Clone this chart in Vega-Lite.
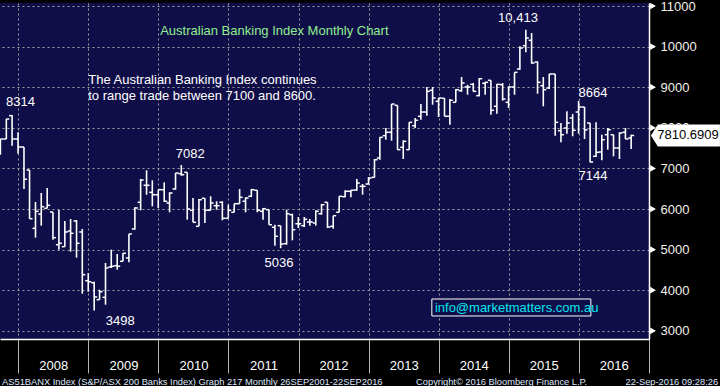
{
  "$schema": "https://vega.github.io/schema/vega-lite/v6.json",
  "width": 649,
  "height": 336,
  "padding": 0,
  "background": "#000000",
  "config": {
    "view": {"fill": "#100e48", "stroke": null},
    "font": "Liberation Sans"
  },
  "datasets": {
    "bars": [
      {"date":"2007-09-30","open":7594,"high":7724,"low":7337,"close":7724},
      {"date":"2007-10-31","open":7724,"high":8217,"low":7724,"close":8217},
      {"date":"2007-11-30","open":8300,"high":8314,"low":7559,"close":7724},
      {"date":"2007-12-31","open":7724,"high":7889,"low":7362,"close":7527},
      {"date":"2008-01-31","open":7527,"high":7527,"low":6493,"close":6732},
      {"date":"2008-02-29","open":6961,"high":6961,"low":5761,"close":5761},
      {"date":"2008-03-31","open":5524,"high":6172,"low":5294,"close":5943},
      {"date":"2008-04-30","open":5876,"high":6394,"low":5589,"close":6057},
      {"date":"2008-05-31","open":6017,"high":6517,"low":6017,"close":6091},
      {"date":"2008-06-30","open":5926,"high":5926,"low":5244,"close":5294},
      {"date":"2008-07-31","open":5121,"high":5975,"low":4998,"close":5155},
      {"date":"2008-08-31","open":5072,"high":5705,"low":5072,"close":5434},
      {"date":"2008-09-30","open":5458,"high":5754,"low":4949,"close":5401},
      {"date":"2008-10-31","open":5705,"high":5729,"low":4801,"close":5155},
      {"date":"2008-11-30","open":5434,"high":5508,"low":3914,"close":4382},
      {"date":"2008-12-31","open":4234,"high":4424,"low":3963,"close":4209},
      {"date":"2009-01-31","open":4185,"high":4209,"low":3498,"close":3833},
      {"date":"2009-02-28","open":3766,"high":4012,"low":3766,"close":3963},
      {"date":"2009-03-31","open":3825,"high":4670,"low":3643,"close":4547},
      {"date":"2009-04-30","open":4572,"high":4998,"low":4547,"close":4589},
      {"date":"2009-05-31","open":4604,"high":4892,"low":4505,"close":4589},
      {"date":"2009-06-30","open":4712,"high":4917,"low":4712,"close":4909},
      {"date":"2009-07-31","open":4794,"high":5385,"low":4687,"close":5385},
      {"date":"2009-08-31","open":5508,"high":6042,"low":5491,"close":6025},
      {"date":"2009-09-30","open":6165,"high":6739,"low":5968,"close":6714},
      {"date":"2009-10-31","open":6584,"high":6953,"low":6352,"close":6584},
      {"date":"2009-11-30","open":6411,"high":6707,"low":6067,"close":6352},
      {"date":"2009-12-31","open":6352,"high":6476,"low":6025,"close":6476},
      {"date":"2010-01-31","open":6476,"high":6658,"low":6173,"close":6190},
      {"date":"2010-02-28","open":6148,"high":6411,"low":5919,"close":6394},
      {"date":"2010-03-31","open":6493,"high":6887,"low":6476,"close":6887},
      {"date":"2010-04-30","open":6870,"high":7082,"low":6820,"close":6845},
      {"date":"2010-05-31","open":6904,"high":6904,"low":5737,"close":6000},
      {"date":"2010-06-30","open":5968,"high":6271,"low":5672,"close":5672},
      {"date":"2010-07-31","open":5574,"high":6247,"low":5574,"close":6229},
      {"date":"2010-08-31","open":6264,"high":6264,"low":5655,"close":5968},
      {"date":"2010-09-30","open":5968,"high":6313,"low":5968,"close":6148},
      {"date":"2010-10-31","open":6082,"high":6190,"low":5983,"close":6082},
      {"date":"2010-11-30","open":6165,"high":6190,"low":5722,"close":5771},
      {"date":"2010-12-31","open":5771,"high":6106,"low":5771,"close":5968},
      {"date":"2011-01-31","open":5919,"high":6131,"low":5919,"close":6131},
      {"date":"2011-02-28","open":6131,"high":6493,"low":6131,"close":6288},
      {"date":"2011-03-31","open":6190,"high":6288,"low":5919,"close":6271},
      {"date":"2011-04-30","open":6313,"high":6493,"low":6296,"close":6476},
      {"date":"2011-05-31","open":6461,"high":6461,"low":5919,"close":5968},
      {"date":"2011-06-30","open":5943,"high":6025,"low":5737,"close":6008},
      {"date":"2011-07-31","open":5983,"high":5983,"low":5613,"close":5613},
      {"date":"2011-08-31","open":5549,"high":5613,"low":5096,"close":5328},
      {"date":"2011-09-30","open":5589,"high":5589,"low":5036,"close":5138},
      {"date":"2011-10-31","open":5146,"high":5983,"low":5121,"close":5884},
      {"date":"2011-11-30","open":5860,"high":5884,"low":5229,"close":5491},
      {"date":"2011-12-31","open":5638,"high":5803,"low":5532,"close":5638},
      {"date":"2012-01-31","open":5589,"high":5803,"low":5557,"close":5745},
      {"date":"2012-02-29","open":5680,"high":5754,"low":5589,"close":5680},
      {"date":"2012-03-31","open":5655,"high":5968,"low":5589,"close":5943},
      {"date":"2012-04-30","open":5884,"high":6123,"low":5860,"close":6106},
      {"date":"2012-05-31","open":6165,"high":6165,"low":5532,"close":5557},
      {"date":"2012-06-30","open":5574,"high":5835,"low":5515,"close":5835},
      {"date":"2012-07-31","open":5919,"high":6313,"low":5919,"close":6313},
      {"date":"2012-08-31","open":6303,"high":6461,"low":6288,"close":6436},
      {"date":"2012-09-30","open":6436,"high":6461,"low":6288,"close":6461},
      {"date":"2012-10-31","open":6468,"high":6739,"low":6451,"close":6640},
      {"date":"2012-11-30","open":6559,"high":6616,"low":6352,"close":6559},
      {"date":"2012-12-31","open":6616,"high":6788,"low":6599,"close":6763},
      {"date":"2013-01-31","open":6780,"high":7232,"low":6771,"close":7214},
      {"date":"2013-02-28","open":7256,"high":7774,"low":7214,"close":7766},
      {"date":"2013-03-31","open":7806,"high":7995,"low":7707,"close":7889},
      {"date":"2013-04-30","open":7889,"high":8586,"low":7682,"close":8586},
      {"date":"2013-05-31","open":8554,"high":8554,"low":7461,"close":7461},
      {"date":"2013-06-30","open":7520,"high":7692,"low":7232,"close":7667},
      {"date":"2013-07-31","open":7461,"high":8135,"low":7461,"close":8135},
      {"date":"2013-08-31","open":8052,"high":8241,"low":7995,"close":8185},
      {"date":"2013-09-30","open":8283,"high":8586,"low":8200,"close":8389},
      {"date":"2013-10-31","open":8389,"high":9005,"low":8298,"close":8898},
      {"date":"2013-11-30","open":8924,"high":9005,"low":8569,"close":8734},
      {"date":"2013-12-31","open":8653,"high":8734,"low":8266,"close":8734},
      {"date":"2014-01-31","open":8727,"high":8727,"low":8283,"close":8283},
      {"date":"2014-02-28","open":8283,"high":8709,"low":8077,"close":8677},
      {"date":"2014-03-31","open":8628,"high":8956,"low":8628,"close":8939},
      {"date":"2014-04-30","open":8914,"high":9251,"low":8889,"close":9103},
      {"date":"2014-05-31","open":9005,"high":9061,"low":8815,"close":9005},
      {"date":"2014-06-30","open":9071,"high":9103,"low":8889,"close":8898},
      {"date":"2014-07-31","open":8791,"high":9227,"low":8776,"close":9209},
      {"date":"2014-08-31","open":9096,"high":9136,"low":8815,"close":9120},
      {"date":"2014-09-30","open":9170,"high":9170,"low":8323,"close":8431},
      {"date":"2014-10-31","open":8530,"high":9079,"low":8347,"close":9071},
      {"date":"2014-11-30","open":9062,"high":9103,"low":8668,"close":8709},
      {"date":"2014-12-31","open":8628,"high":9022,"low":8488,"close":9005},
      {"date":"2015-01-31","open":9005,"high":9367,"low":8815,"close":9367},
      {"date":"2015-02-28","open":9448,"high":10007,"low":9431,"close":9966},
      {"date":"2015-03-31","open":10022,"high":10413,"low":9860,"close":10212},
      {"date":"2015-04-30","open":10155,"high":10335,"low":9579,"close":9596},
      {"date":"2015-05-31","open":9621,"high":9638,"low":8840,"close":9120},
      {"date":"2015-06-30","open":9037,"high":9251,"low":8530,"close":8939},
      {"date":"2015-07-31","open":8980,"high":9325,"low":8956,"close":9325},
      {"date":"2015-08-31","open":9325,"high":9325,"low":7806,"close":8135},
      {"date":"2015-09-30","open":7929,"high":8118,"low":7643,"close":7830},
      {"date":"2015-10-31","open":7995,"high":8406,"low":7855,"close":8118},
      {"date":"2015-11-30","open":8241,"high":8340,"low":7791,"close":7939},
      {"date":"2015-12-31","open":8389,"high":8664,"low":7855,"close":8512},
      {"date":"2016-01-31","open":8512,"high":8512,"low":7724,"close":7950},
      {"date":"2016-02-29","open":8118,"high":8118,"low":7144,"close":7158},
      {"date":"2016-03-31","open":7298,"high":8135,"low":7281,"close":7396},
      {"date":"2016-04-30","open":7404,"high":7830,"low":7199,"close":7707},
      {"date":"2016-05-31","open":7830,"high":7995,"low":7461,"close":7953},
      {"date":"2016-06-30","open":7830,"high":7830,"low":7298,"close":7503},
      {"date":"2016-07-31","open":7503,"high":7889,"low":7232,"close":7872},
      {"date":"2016-08-31","open":7889,"high":7995,"low":7724,"close":7724},
      {"date":"2016-09-30","open":7749,"high":7830,"low":7478,"close":7811}
    ],
    "peaks": [
      {"date":"2008-01-13","value":8636,"label":"8314"},
      {"date":"2010-06-16","value":7355,"label":"7082"},
      {"date":"2009-06-16","value":3242,"label":"3498"},
      {"date":"2011-09-21","value":4670,"label":"5036"},
      {"date":"2015-02-18","value":10704,"label":"10,413"},
      {"date":"2016-03-15","value":8857,"label":"8664"},
      {"date":"2016-03-15","value":6813,"label":"7144"}
    ],
    "notes": [
      {"date":"2008-12-31","value":9177,"label":"The Australian Banking Index continues"},
      {"date":"2008-12-31","value":8783,"label":"to range trade between 7100 and 8600."}
    ],
    "heading": [
      {"date":"2010-01-10","value":10384,"label":"Australian Banking Index Monthly Chart"}
    ],
    "emailbox": [
      {"start":"2013-11-26","end":"2016-03-04","low":3365,"high":3783}
    ],
    "email": [
      {"date":"2013-12-12","value":3562,"label":"info@marketmatters.com.au"}
    ],
    "levels": [
      {"value":3000},{"value":4000},{"value":5000},{"value":6000},{"value":7000},
      {"value":8000},{"value":9000},{"value":10000},{"value":11000}
    ],
    "last": [
      {"date":"2017-07-10","textdate":"2017-07-23","value":7810.6909,"label":"7810.6909"}
    ],
    "footleft": [
      {"date":"2007-10-09","value":1739,"label":"AS51BANX Index (S&P/ASX 200 Banks Index) Graph 217  Monthly 26SEP2001-22SEP2016"},
      {"date":"2013-09-05","value":1739,"label":"Copyright© 2016 Bloomberg Finance L.P."}
    ],
    "footright": [
      {"date":"2017-12-27","value":1739,"label":"22-Sep-2016 09:28:26"}
    ]
  },
  "layer": [
    {
      "data": {"name": "bars"},
      "mark": {"type": "rule", "color": "#ffffff", "strokeWidth": 1.6, "clip": true},
      "encoding": {
        "x": {
          "field": "date", "type": "temporal", "title": null,
          "scale": {"domain": [{"year": 2007, "month": 9, "date": 28}, {"year": 2017, "month": 1, "date": 1}]},
          "axis": {
            "orient": "bottom",
            "tickCount": {"interval": "year", "step": 1},
            "format": "%Y",
            "labelExpr": "year(datum.value) > 2016 ? '' : datum.label",
            "labelOffset": 35,
            "labelPadding": -8,
            "labelBaseline": "middle",
            "labelFlush": false,
            "labelOverlap": false,
            "labelBound": false,
            "labelColor": "#ffffff",
            "labelFontSize": 13,
            "tickSize": 34,
            "tickColor": "#b4b4b4",
            "tickWidth": 1,
            "domainColor": "#ffffff",
            "domainWidth": 1.5,
            "grid": true,
            "gridColor": "#a0a0a0",
            "gridDash": [2, 3],
            "gridWidth": 1
          }
        },
        "y": {
          "field": "low", "type": "quantitative", "title": null,
          "scale": {"domain": [2798, 11074], "nice": false, "zero": false},
          "axis": {
            "orient": "right",
            "values": [3000, 3500, 4000, 4500, 5000, 5500, 6000, 6500, 7000, 7500, 8000, 8500, 9000, 9500, 10000, 10500, 11000],
            "format": "d",
            "labelExpr": "datum.value % 1000 === 0 ? datum.label : ''",
            "labelColor": "#f4f0e8",
            "labelFontSize": 13,
            "labelPadding": 6,
            "labelBaseline": "middle",
            "labelOverlap": false,
            "labelFlush": false,
            "tickSize": 5,
            "tickColor": "#ffffff",
            "tickWidth": 1,
            "domainColor": "#ffffff",
            "domainWidth": 1.5,
            "grid": true,
            "gridColor": "#a0a0a0",
            "gridDash": [2, 3],
            "gridWidth": 1,
            "gridOpacity": {"condition": {"test": "datum.value % 1000 === 0", "value": 1}, "value": 0}
          }
        },
        "y2": {"field": "high"}
      }
    },
    {
      "data": {"name": "bars"},
      "mark": {"type": "rule", "color": "#ffffff", "strokeWidth": 1.5, "xOffset": -3, "x2Offset": 0, "clip": true},
      "encoding": {
        "x": {"field": "date", "type": "temporal"},
        "x2": {"field": "date"},
        "y": {"field": "open", "type": "quantitative"}
      }
    },
    {
      "data": {"name": "bars"},
      "mark": {"type": "rule", "color": "#ffffff", "strokeWidth": 1.5, "xOffset": 0, "x2Offset": 3, "clip": true},
      "encoding": {
        "x": {"field": "date", "type": "temporal"},
        "x2": {"field": "date"},
        "y": {"field": "close", "type": "quantitative"}
      }
    },
    {
      "data": {"name": "levels"},
      "mark": {"type": "point", "shape": "triangle-right", "size": 45, "filled": true, "color": "#ffffff", "opacity": 1},
      "encoding": {
        "x": {"datum": {"year": 2017, "month": 1, "date": 22}, "type": "temporal"},
        "y": {"field": "value", "type": "quantitative"}
      }
    },
    {
      "data": {"name": "peaks"},
      "mark": {"type": "text", "color": "#ffffff", "fontSize": 13, "align": "center", "baseline": "middle"},
      "encoding": {
        "x": {"field": "date", "type": "temporal"},
        "y": {"field": "value", "type": "quantitative"},
        "text": {"field": "label"}
      }
    },
    {
      "data": {"name": "notes"},
      "mark": {"type": "text", "color": "#ffffff", "fontSize": 13, "align": "left", "baseline": "middle"},
      "encoding": {
        "x": {"field": "date", "type": "temporal"},
        "y": {"field": "value", "type": "quantitative"},
        "text": {"field": "label"}
      }
    },
    {
      "data": {"name": "heading"},
      "mark": {"type": "text", "color": "#90ee90", "fontSize": 13, "align": "left", "baseline": "middle"},
      "encoding": {
        "x": {"field": "date", "type": "temporal"},
        "y": {"field": "value", "type": "quantitative"},
        "text": {"field": "label"}
      }
    },
    {
      "data": {"name": "emailbox"},
      "mark": {"type": "rect", "fill": "#100e48", "stroke": "#ffffff", "strokeWidth": 1},
      "encoding": {
        "x": {"field": "start", "type": "temporal"},
        "x2": {"field": "end"},
        "y": {"field": "low", "type": "quantitative"},
        "y2": {"field": "high"}
      }
    },
    {
      "data": {"name": "email"},
      "mark": {"type": "text", "color": "#00e6f0", "fontSize": 13, "align": "left", "baseline": "middle"},
      "encoding": {
        "x": {"field": "date", "type": "temporal"},
        "y": {"field": "value", "type": "quantitative"},
        "text": {"field": "label"}
      }
    },
    {
      "data": {"name": "last"},
      "mark": {"type": "point", "shape": "M-1,0 L-0.8,-0.32 L1,-0.32 L1,0.32 L-0.8,0.32 Z", "size": 4761, "filled": true, "color": "#ffffff", "opacity": 1},
      "encoding": {
        "x": {"field": "date", "type": "temporal"},
        "y": {"field": "value", "type": "quantitative"}
      }
    },
    {
      "data": {"name": "last"},
      "mark": {"type": "text", "color": "#000000", "fontSize": 13, "align": "center", "baseline": "middle"},
      "encoding": {
        "x": {"field": "textdate", "type": "temporal"},
        "y": {"field": "value", "type": "quantitative"},
        "text": {"field": "label"}
      }
    },
    {
      "data": {"name": "footleft"},
      "mark": {"type": "text", "color": "#dfe8ff", "fontSize": 9.3, "align": "left", "baseline": "middle"},
      "encoding": {
        "x": {"field": "date", "type": "temporal"},
        "y": {"field": "value", "type": "quantitative"},
        "text": {"field": "label"}
      }
    },
    {
      "data": {"name": "footright"},
      "mark": {"type": "text", "color": "#dfe8ff", "fontSize": 9.3, "align": "right", "baseline": "middle"},
      "encoding": {
        "x": {"field": "date", "type": "temporal"},
        "y": {"field": "value", "type": "quantitative"},
        "text": {"field": "label"}
      }
    }
  ]
}
